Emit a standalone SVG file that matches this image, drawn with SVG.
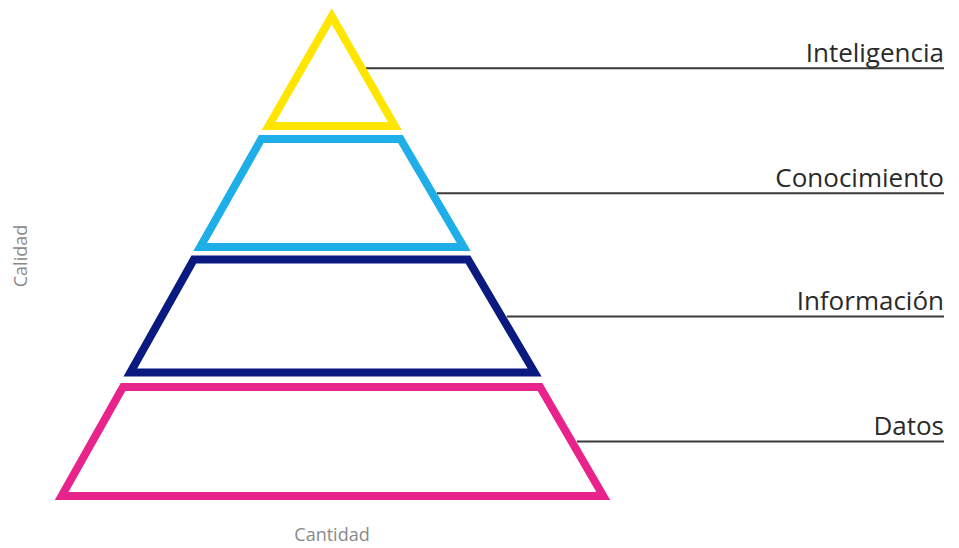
<svg xmlns="http://www.w3.org/2000/svg" width="959" height="548" viewBox="0 0 959 548">
<style>
.lvl{fill:none;stroke-width:8;stroke-linejoin:miter}
.lbl{font-family:"Open Sans","Liberation Sans",sans-serif;font-size:26px;fill:#2a2a2a;text-anchor:end}
.axis{font-family:"Open Sans","Liberation Sans",sans-serif;font-size:18px;fill:#8a8a8a;text-anchor:middle}
.conn{stroke:#3a3a3a;stroke-width:2;fill:none}
</style>
<rect width="959" height="548" fill="#ffffff"/>
<g id="connectors">
<line class="conn" x1="366" y1="68.3" x2="944" y2="68.3"/>
<line class="conn" x1="437" y1="193.3" x2="944" y2="193.3"/>
<line class="conn" x1="507" y1="316.5" x2="944" y2="316.5"/>
<line class="conn" x1="577" y1="441.5" x2="944" y2="441.5"/>
</g>
<g id="inteligencia">
<polygon class="lvl" stroke="#ffe600" points="331.7,16.3 394.8,126 268.6,126"/>
<text class="lbl" x="944" y="61.5">Inteligencia</text>
</g>
<g id="conocimiento">
<polygon class="lvl" stroke="#1eaee8" points="261.3,139 400.4,139 463.7,247 200.2,247"/>
<text class="lbl" x="944" y="186.5">Conocimiento</text>
</g>
<g id="informacion">
<polygon class="lvl" stroke="#0a1a80" points="193.8,259.5 468,259.5 534.6,372.5 130.3,372.5"/>
<text class="lbl" x="944" y="310">Información</text>
</g>
<g id="datos">
<polygon class="lvl" stroke="#e8248c" stroke-width="7.5" points="123,387 540,387 603.3,496 61.6,496"/>
<text class="lbl" x="944" y="435">Datos</text>
</g>
<g id="axes">
<text class="axis" transform="translate(27,256) rotate(-90)">Calidad</text>
<text class="axis" x="332" y="541">Cantidad</text>
</g>
</svg>
